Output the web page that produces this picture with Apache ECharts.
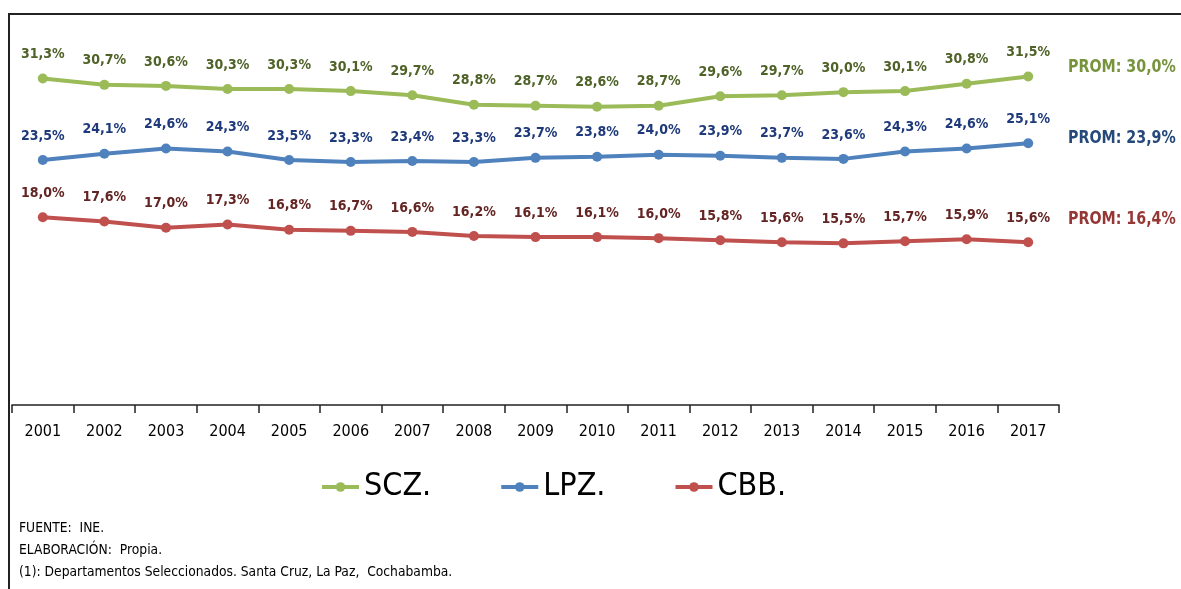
<!DOCTYPE html>
<html>
<head>
<meta charset="utf-8">
<script src="https://cdn.jsdelivr.net/npm/echarts@6/dist/echarts.min.js"></script>
<style>
  html, body { margin: 0; padding: 0; background: #fff; }
  #chart { width: 1181px; height: 589px; }
</style>
</head>
<body>
<div id="chart"></div>
<script>
// datos
const years = ['2001', '2002', '2003', '2004', '2005', '2006', '2007', '2008', '2009',
  '2010', '2011', '2012', '2013', '2014', '2015', '2016', '2017']
const scz = [31.3, 30.7, 30.6, 30.3, 30.3, 30.1, 29.7, 28.8, 28.7, 28.6, 28.7, 29.6, 29.7, 30.0, 30.1, 30.8, 31.5]
const lpz = [23.5, 24.1, 24.6, 24.3, 23.5, 23.3, 23.4, 23.3, 23.7, 23.8, 24.0, 23.9, 23.7, 23.6, 24.3, 24.6, 25.1]
const cbb = [18.0, 17.6, 17.0, 17.3, 16.8, 16.7, 16.6, 16.2, 16.1, 16.1, 16.0, 15.8, 15.6, 15.5, 15.7, 15.9, 15.6]
const seriesNames = ['SCZ.', 'LPZ.', 'CBB.']
const promedios = [30.0, 23.9, 16.4]
const notas = [
  'FUENTE:  INE.',
  'ELABORACIÓN:  Propia.',
  '(1): Departamentos Seleccionados. Santa Cruz, La Paz,  Cochabamba.'
]

const NARROW = "'DejaVu Sans Condensed', 'Liberation Sans Narrow', 'Arial Narrow', sans-serif"
const lineColors = ['#9BBB59', '#4F81BD', '#C0504D']
const labelColors = ['#4F6228', '#1F3A7A', '#632523']
const promColors = ['#77933C', '#254A7A', '#953735']
const promY = [58, 129, 210]

const fmt = v => v.toFixed(1).replace('.', ',') + '%'

function makeSeries(name, data, i) {
  return {
    name: name,
    type: 'line',
    data: data,
    symbol: 'circle',
    symbolSize: 10,
    lineStyle: { width: 4, color: lineColors[i] },
    itemStyle: { color: lineColors[i] },
    label: {
      show: true,
      position: 'top',
      distance: 12,
      formatter: p => fmt(p.value),
      color: labelColors[i],
      fontFamily: NARROW,
      fontWeight: 'bold',
      fontSize: 14
    }
  }
}

const chart = echarts.init(document.getElementById('chart'))

const graphics = [
  {
    type: 'polyline',
    shape: { points: [[9, 589], [9, 14], [1181, 14]] },
    style: { stroke: '#222', lineWidth: 2, fill: null }
  }
]
// promedios a la derecha (texto estrecho)
promedios.forEach((v, i) => {
  graphics.push({
    type: 'text',
    x: 1068,
    y: promY[i],
    scaleX: 0.88,
    style: {
      text: 'PROM: ' + fmt(v),
      fill: promColors[i],
      font: 'bold 18px ' + NARROW,
      align: 'left',
      verticalAlign: 'top'
    }
  })
})
notas.forEach((t, i) => {
  graphics.push({
    type: 'text',
    x: 19,
    y: 521 + i * 22,
    scaleX: 0.98,
    style: { text: t, fill: '#000', font: '14px ' + NARROW, verticalAlign: 'top' }
  })
})

chart.setOption({
  animation: false,
  grid: { left: 12, right: 122, top: 40, bottom: 184 },
  legend: {
    data: seriesNames,
    left: 320,
    top: 471,
    padding: 0,
    itemWidth: 37,
    itemHeight: 12,
    itemGap: 68,
    lineStyle: { width: 4 },
    textStyle: { fontFamily: NARROW, fontSize: 32, color: '#000' }
  },
  xAxis: {
    type: 'category',
    data: years,
    boundaryGap: true,
    axisLine: { lineStyle: { color: '#222', width: 1.5 } },
    axisTick: { show: true, length: 8, lineStyle: { color: '#222', width: 1.5 } },
    axisLabel: { color: '#000', fontFamily: NARROW, fontSize: 16, margin: 19 }
  },
  yAxis: {
    type: 'value',
    min: 0,
    max: 35,
    show: false,
    splitLine: { show: false }
  },
  series: [
    makeSeries(seriesNames[0], scz, 0),
    makeSeries(seriesNames[1], lpz, 1),
    makeSeries(seriesNames[2], cbb, 2)
  ],
  graphic: graphics
})
</script>
</body>
</html>
